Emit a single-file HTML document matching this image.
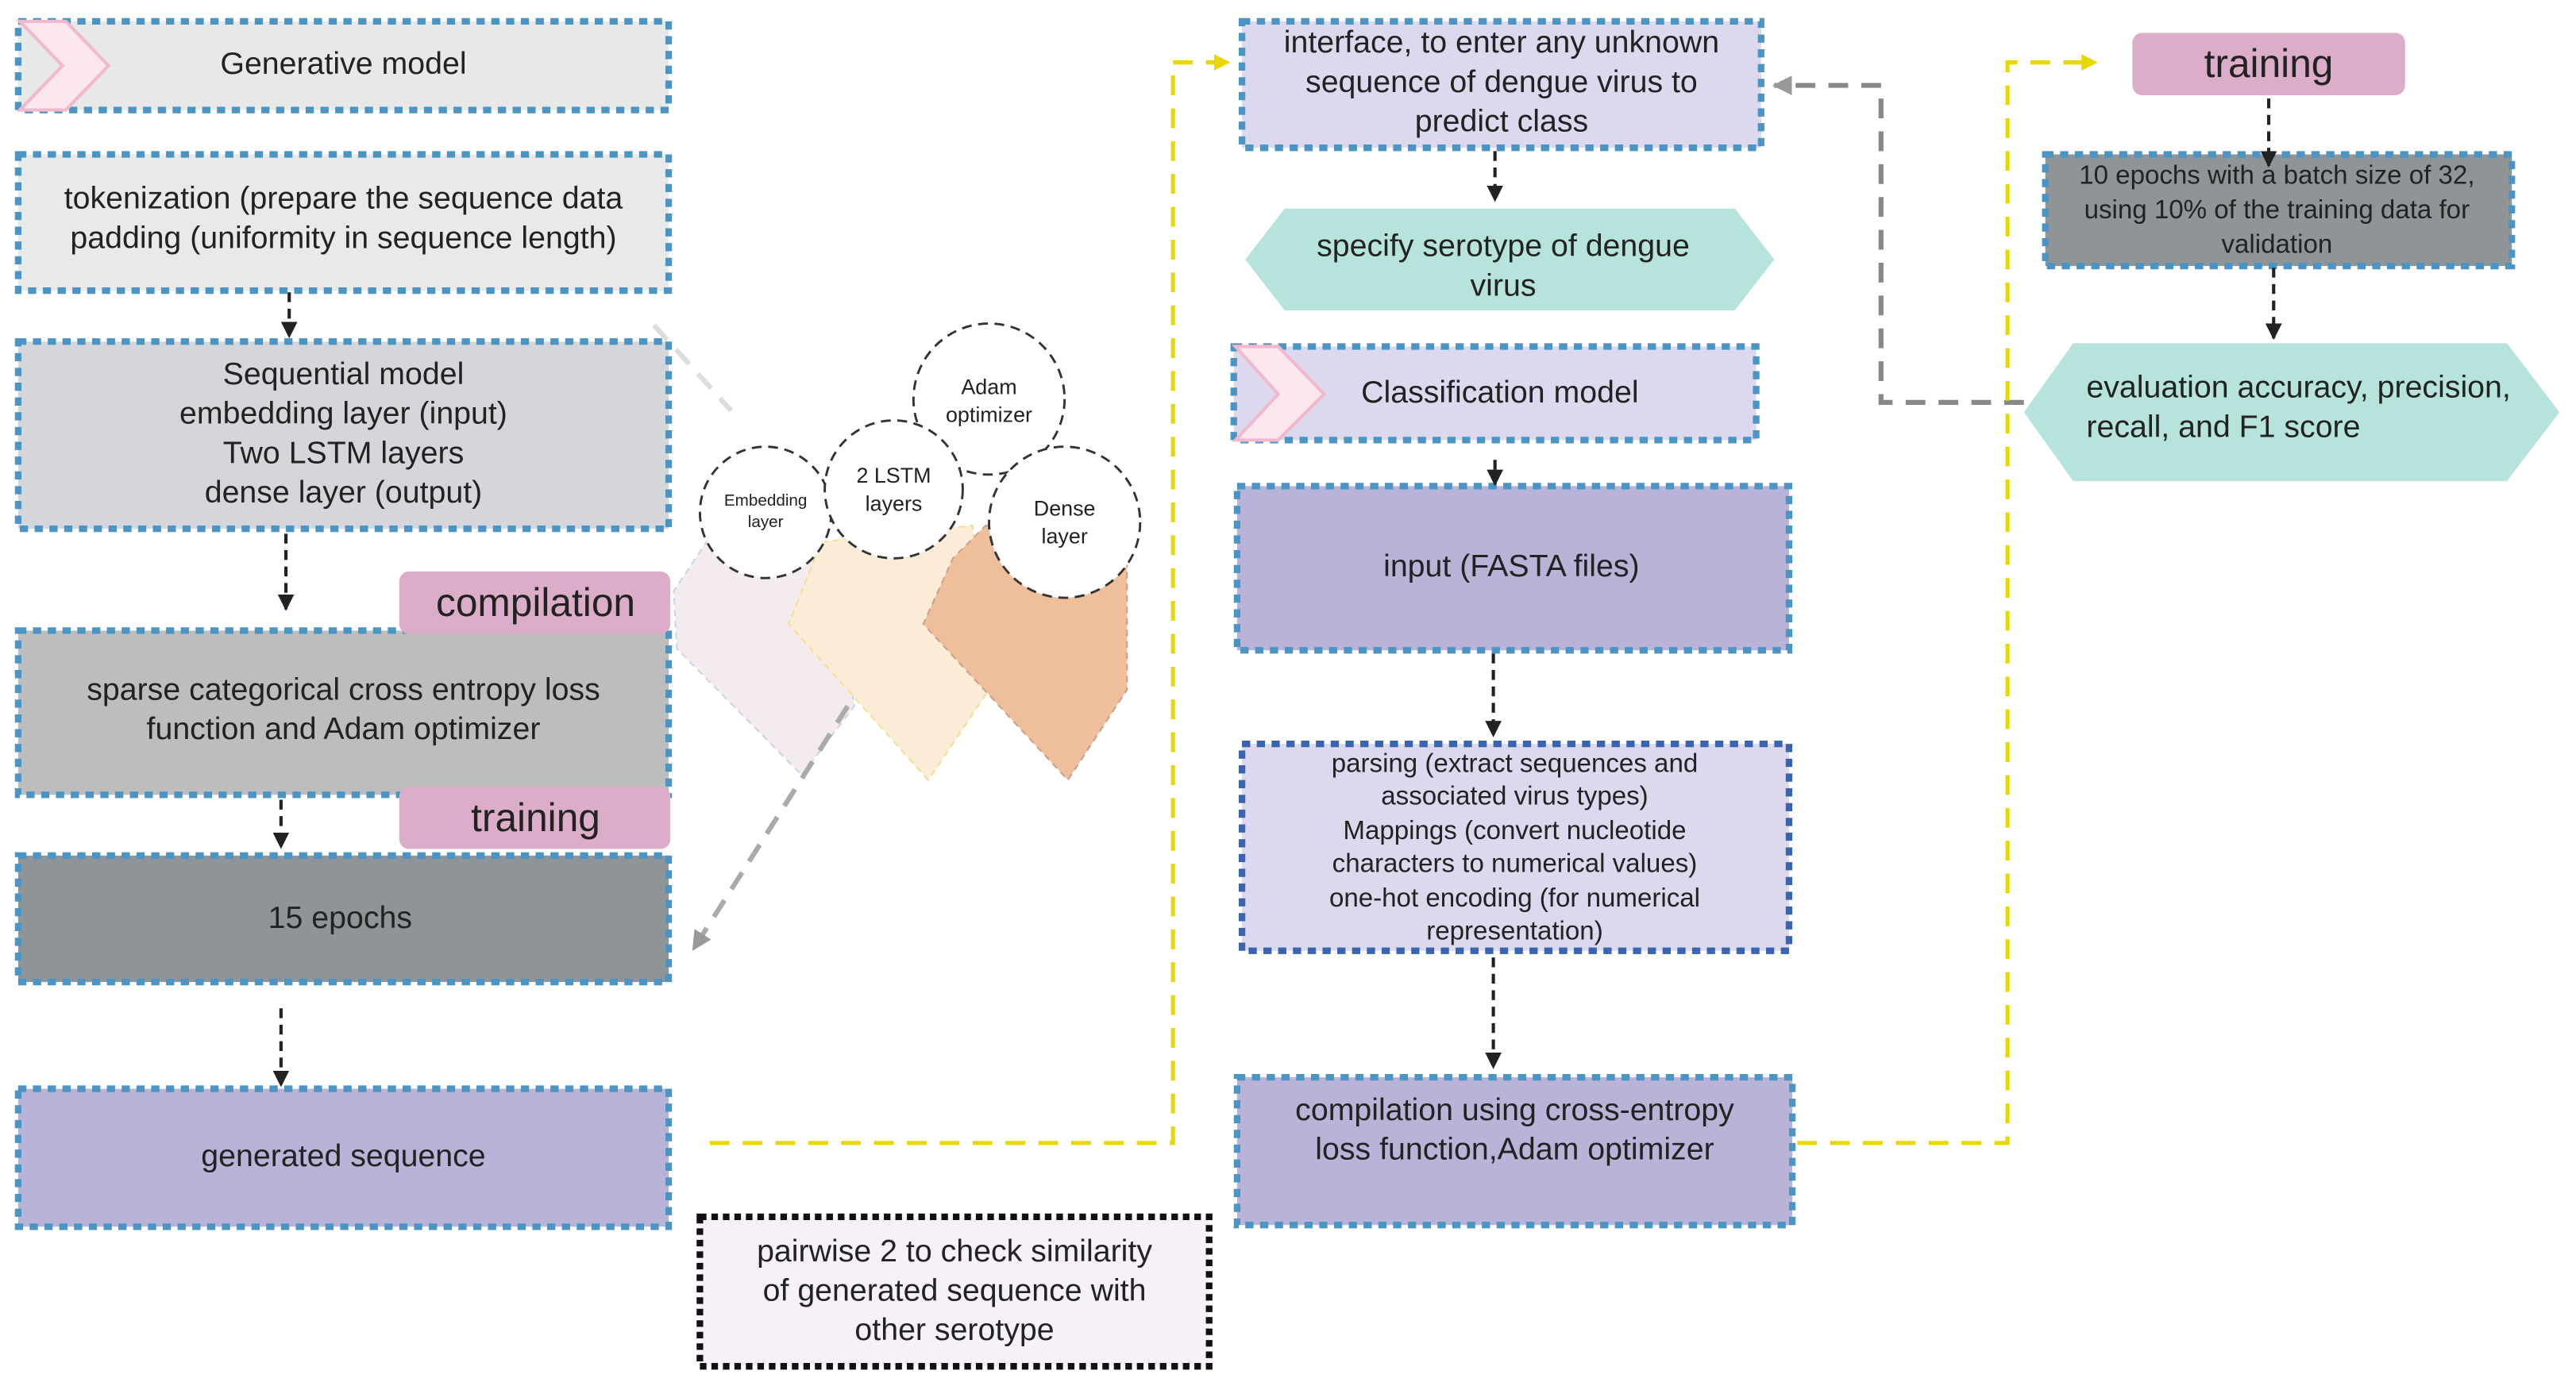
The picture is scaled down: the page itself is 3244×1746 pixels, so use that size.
<!DOCTYPE html>
<html><head><meta charset="utf-8"><style>html,body{margin:0;padding:0;background:#fff}svg{display:block}text{font-family:"Liberation Sans",sans-serif;fill:#222;text-anchor:middle}</style></head>
<body>
<svg width="3244" height="1746" viewBox="0 0 1568 844" xmlns="http://www.w3.org/2000/svg">
<defs>
<marker id="ab" viewBox="0 0 10 10" refX="9" refY="5" markerWidth="5" markerHeight="5" orient="auto"><path d="M0,0L10,5L0,10z" fill="#222"/></marker>
<marker id="ag" viewBox="0 0 10 10" refX="9" refY="5" markerWidth="4" markerHeight="4" orient="auto"><path d="M0,0L10,5L0,10z" fill="#999"/></marker>
<marker id="ay" viewBox="0 0 10 10" refX="9" refY="5" markerWidth="4" markerHeight="4" orient="auto"><path d="M0,0L10,5L0,10z" fill="#e8d800"/></marker>
</defs>
<g stroke="#4a95c4" stroke-width="4" stroke-dasharray="5 4">
<rect x="11" y="13" width="396" height="54" fill="#e8e8e8"/>
<rect x="11" y="94" width="396" height="83" fill="#e9e9e9"/>
<rect x="11" y="208" width="396" height="114" fill="#d4d6d9"/>
<rect x="11" y="384" width="396" height="100" fill="#bdbdbd"/>
<rect x="11" y="521" width="396" height="77" fill="#8f9497"/>
<rect x="11" y="663" width="396" height="84" fill="#b9b3d7"/>
<rect x="756" y="13" width="316" height="77" fill="#dcd8ee"/>
<rect x="751" y="211" width="318" height="57" fill="#dcd8ee"/>
<rect x="753" y="296" width="336" height="100" fill="#b9b3d7"/>
<rect x="753" y="656" width="338" height="90" fill="#b9b3d7"/>
<rect x="1245" y="94" width="284" height="68" fill="#8f9497"/>
</g>
<rect x="756" y="453" width="333" height="126" fill="#dcd8ee" stroke="#3a64b0" stroke-width="4" stroke-dasharray="5 4"/>
<rect x="426" y="741" width="310" height="91" fill="#f6f1f8" stroke="#111" stroke-width="4" stroke-dasharray="4 3"/>
<path d="M12,13 L40,13 L66,40 L40,67 L12,67 L38,40z" fill="#fde7ee" stroke="#f2b8cc" stroke-width="2"/>
<path d="M752,211 L778,211 L806,240 L778,268 L752,268 L778,240z" fill="#fde7ee" stroke="#f2b8cc" stroke-width="2"/>
<rect x="243" y="348" width="165" height="38" rx="6" fill="#dcadc9"/>
<rect x="243" y="479" width="165" height="38" rx="6" fill="#dcadc9"/>
<rect x="1298" y="20" width="166" height="38" rx="6" fill="#dcadc9"/>
<polygon points="758,158 782,127 1056,127 1080,158 1056,189 782,189" fill="#b6e3dc"/>
<polygon points="1232,251 1262,209 1526,209 1558,251 1526,293 1262,293" fill="#b6e3dc"/>
<!-- petals -->
<polygon points="430,330 505,330 520,430 488,472 412,395 410,360" fill="#f3ebee" stroke="#c8d4e8" stroke-dasharray="4 3"/>
<polygon points="500,330 592,320 602,420 565,475 480,380" fill="#fbecd8" stroke="#f0e090" stroke-dasharray="4 3"/>
<polygon points="600,320 686,330 686,420 650,475 562,380 580,340" fill="#efbf9c" stroke="#c9a08c" stroke-dasharray="4 3"/>
<g fill="#fff" stroke="#333" stroke-width="1.4" stroke-dasharray="6 4">
<circle cx="602" cy="243" r="46"/>
<circle cx="466" cy="312" r="40"/>
<circle cx="544" cy="298" r="42"/>
<circle cx="648" cy="318" r="46"/>
</g>
<g fill="none" stroke-width="3" stroke-dasharray="12 8">
<path d="M398,198 L445,250" stroke="#ddd"/>
<path d="M516,430 L422,578" stroke="#aaa" marker-end="url(#ag)"/>
<path d="M1232,245 L1145,245 L1145,52 L1080,52" stroke="#888" marker-end="url(#ag)"/>
<path d="M432,696 L714,696 L714,38 L748,38" stroke="#e8d800" stroke-width="2.5" marker-end="url(#ay)"/>
<path d="M1094,696 L1222,696 L1222,38 L1276,38" stroke="#e8d800" stroke-width="2.5" marker-end="url(#ay)"/>
</g>
<g stroke="#222" stroke-width="2" stroke-dasharray="6 4" fill="none" marker-end="url(#ab)">
<path d="M176,178 L176,205"/><path d="M174,325 L174,371"/><path d="M171,487 L171,516"/><path d="M171,614 L171,661"/>
<path d="M910,92 L910,122"/><path d="M910,280 L910,295"/><path d="M909,398 L909,448"/><path d="M909,583 L909,650"/>
<path d="M1381,60 L1381,101"/><path d="M1384,163 L1384,206"/>
</g>
<g font-size="19">
<text x="209" y="45">Generative model</text>
<text x="209" y="127">tokenization (prepare the sequence data</text>
<text x="209" y="151">padding (uniformity in sequence length)</text>
<text x="209" y="234">Sequential model</text>
<text x="209" y="258">embedding layer (input)</text>
<text x="209" y="282">Two LSTM layers</text>
<text x="209" y="306">dense layer (output)</text>
<text x="209" y="426">sparse categorical cross entropy loss</text>
<text x="209" y="450">function and Adam optimizer</text>
<text x="207" y="565" fill="#444">15 epochs</text>
<text x="209" y="710">generated sequence</text>
<text x="581" y="768">pairwise 2 to check similarity</text>
<text x="581" y="792">of generated sequence with</text>
<text x="581" y="816">other serotype</text>
<text x="914" y="32">interface, to enter any unknown</text>
<text x="914" y="56">sequence of dengue virus to</text>
<text x="914" y="80">predict class</text>
<text x="915" y="156">specify serotype of dengue</text>
<text x="915" y="180">virus</text>
<text x="913" y="245">Classification model</text>
<text x="920" y="351">input (FASTA files)</text>
<text x="922" y="682">compilation using cross-entropy</text>
<text x="922" y="706">loss function,Adam optimizer</text>
<text x="1270" y="242" style="text-anchor:start">evaluation accuracy, precision,</text>
<text x="1270" y="266" style="text-anchor:start">recall, and F1 score</text>
</g>
<g font-size="16">
<text x="922" y="470">parsing (extract sequences and</text>
<text x="922" y="490">associated virus types)</text>
<text x="922" y="511">Mappings (convert nucleotide</text>
<text x="922" y="531">characters to numerical values)</text>
<text x="922" y="552">one-hot encoding (for numerical</text>
<text x="922" y="572">representation)</text>
<text x="1386" y="112" fill="#333">10 epochs with a batch size of 32,</text>
<text x="1386" y="133" fill="#333">using 10% of the training data for</text>
<text x="1386" y="154" fill="#333">validation</text>
</g>
<g font-size="24">
<text x="326" y="375">compilation</text>
<text x="326" y="506">training</text>
<text x="1381" y="47">training</text>
</g>
<g font-size="13">
<text x="602" y="240">Adam</text><text x="602" y="257">optimizer</text>
<text x="544" y="294">2 LSTM</text><text x="544" y="311">layers</text>
<text x="648" y="314">Dense</text><text x="648" y="331">layer</text>
</g>
<g font-size="10">
<text x="466" y="308">Embedding</text><text x="466" y="321">layer</text>
</g>
</svg>
</body></html>
